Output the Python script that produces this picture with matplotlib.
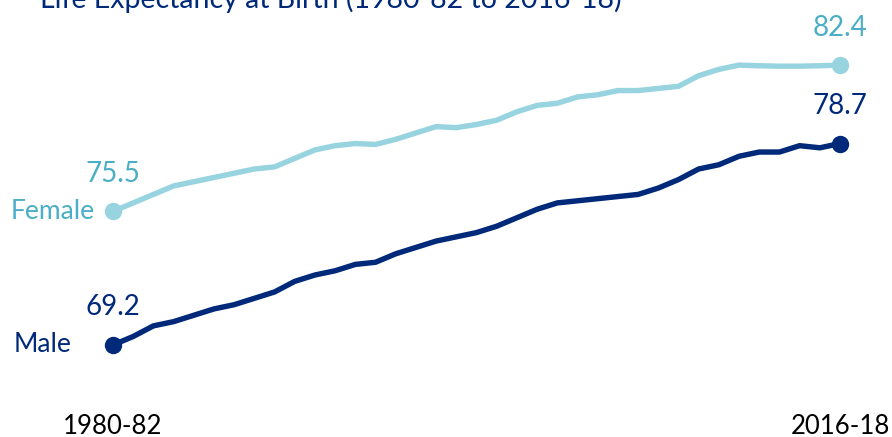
import matplotlib
matplotlib.use("Agg")
import matplotlib.pyplot as plt

# ---- data ----
periods = ["1980-82", "2016-18"]
n_periods = 37  # 1980-82 ... 2016-18 (rolling three-year periods)
female = [75.5, 75.9, 76.3, 76.7, 76.9, 77.1, 77.3, 77.5, 77.6, 78.0,
          78.4, 78.6, 78.7, 78.66, 78.9, 79.2, 79.5, 79.45, 79.6, 79.8,
          80.2, 80.5, 80.6, 80.9, 81.0, 81.2, 81.2, 81.3, 81.4, 81.9,
          82.2, 82.4, 82.37, 82.35, 82.35, 82.37, 82.4]
male = [69.2, 69.6, 70.1, 70.3, 70.6, 70.9, 71.1, 71.4, 71.7, 72.2,
        72.5, 72.7, 73.0, 73.1, 73.5, 73.8, 74.1, 74.3, 74.5, 74.8,
        75.2, 75.6, 75.9, 76.0, 76.1, 76.2, 76.3, 76.6, 77.0, 77.5,
        77.7, 78.1, 78.3, 78.3, 78.6, 78.5, 78.7]
series_names = ["Female", "Male"]
title = "Life Expectancy at Birth (1980-82 to 2016-18)"

# ---- style ----
NAVY = "#00297a"
LIGHT = "#98d4e0"
TEAL_TXT = "#4aaec6"
FONT = "Lato"
plt.rcParams["font.family"] = [FONT, "DejaVu Sans"]

W, H, DPI = 892, 437, 100
fig = plt.figure(figsize=(W / DPI, H / DPI), dpi=DPI)
left_px, right_px, top_px, bot_px = 113, 840, 40, 400
ax = fig.add_axes([left_px / W, 1 - bot_px / H,
                   (right_px - left_px) / W, (bot_px - top_px) / H])

x = list(range(n_periods))
ax.plot(x, female, color=LIGHT, lw=3.9, solid_capstyle="round",
        solid_joinstyle="round", clip_on=False)
ax.plot(x, male, color=NAVY, lw=3.9, solid_capstyle="round",
        solid_joinstyle="round", clip_on=False)
for s, c in ((female, LIGHT), (male, NAVY)):
    ax.plot([x[0], x[-1]], [s[0], s[-1]], "o", color=c, ms=11.5, clip_on=False)

ax.set_xlim(0, n_periods - 1)
ax.set_ylim((1812 - 400) / 21.2, (1812 - 40) / 21.2)

# value labels
fs = 20
for s, c in ((female, TEAL_TXT), (male, NAVY)):
    ax.annotate(f"{s[0]:.1f}", (x[0], s[0]), xytext=(0, 27), textcoords="offset points",
                ha="center", va="center", color=c, fontsize=fs)
    ax.annotate(f"{s[-1]:.1f}", (x[-1], s[-1]), xytext=(0, 27), textcoords="offset points",
                ha="center", va="center", color=c, fontsize=fs)

# series names
ax.annotate(series_names[0], (x[0], female[0]), xytext=(-13, 0), textcoords="offset points",
            ha="right", va="center", color=TEAL_TXT, fontsize=fs - 1)
ax.annotate(series_names[1], (x[0], male[0]), xytext=(-30, 0), textcoords="offset points",
            ha="right", va="center", color=NAVY, fontsize=fs - 1)

ax.set_xticks([x[0], x[-1]])
ax.set_xticklabels(periods, fontsize=18.5, color="black")
ax.tick_params(axis="x", length=0, pad=10)
ax.set_yticks([])
for sp in ax.spines.values():
    sp.set_visible(False)

fig.text(40 / W, 1 - 8 / H, title, color=NAVY, fontsize=20.5, ha="left", va="baseline")

fig.savefig("out.png", dpi=DPI)
